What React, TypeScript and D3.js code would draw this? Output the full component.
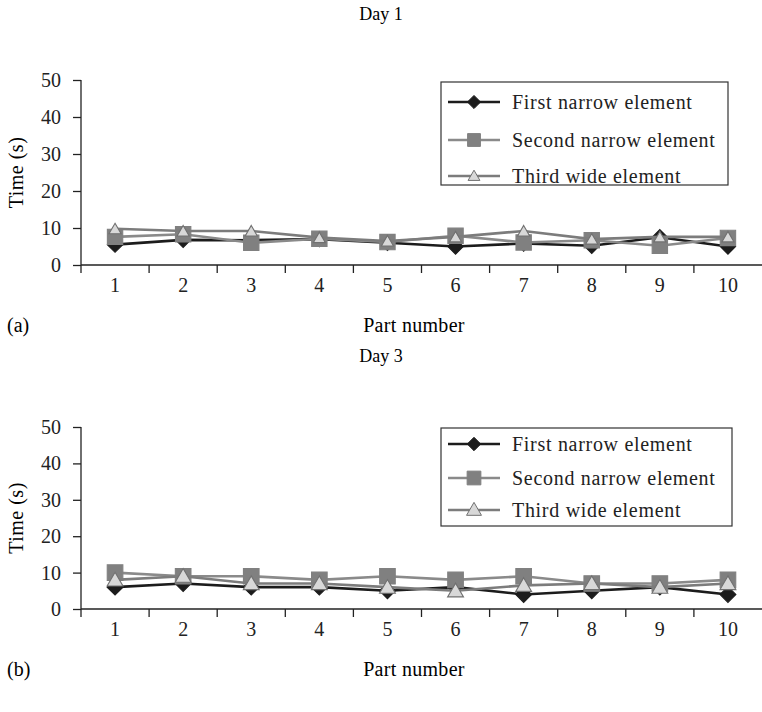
import React, { useEffect, useRef } from 'react'
import * as d3 from 'd3'

const parts = ['1', '2', '3', '4', '5', '6', '7', '8', '9', '10']
const yTicks = [0, 10, 20, 30, 40, 50]
const seriesNames = ['First narrow element', 'Second narrow element', 'Third wide element']

const day1First = [5.5, 6.8, 6.7, 7, 6, 5, 5.8, 5.2, 7.5, 5]
const day1Second = [7.6, 8.3, 6, 7.1, 6.2, 7.9, 6.1, 6.7, 5.2, 7.3]
const day1Third = [9.8, 9.2, 9.2, 7.4, 6.5, 7.6, 9.2, 7, 7.6, 7.6]

const day3First = [6, 7, 6, 6, 5, 6, 4, 5, 6, 4]
const day3Second = [10, 9, 9, 8, 9, 8, 9, 7, 7, 8]
const day3Third = [8, 9, 7, 7, 6, 5, 6.5, 7, 6, 7]

const FONT = '"Liberation Serif", "Times New Roman", serif'

const styles = [
  { line: '#1c1c1c', fill: '#1c1c1c', stroke: '#1c1c1c', shape: 'diamond' },
  { line: '#8a8a8a', fill: '#808080', stroke: '#808080', shape: 'square' },
  { line: '#7c7c7c', fill: '#d8d8d8', stroke: '#707070', shape: 'triangle' },
]

const symbolFor = (shape: string, size: number) => {
  const type = shape === 'diamond' ? d3.symbolDiamond2 : shape === 'square' ? d3.symbolSquare2 : d3.symbolTriangle2
  return d3.symbol().type(type).size(size)()
}

export default function App() {
  const ref = useRef<SVGSVGElement>(null)

  useEffect(() => {
    if (!ref.current) return
    const svg = d3.select(ref.current)
    svg.selectAll('*').remove()

    const panels = [
      {
        title: 'Day 1', label: '(a)', top: 80, bottom: 265, titleY: 20,
        data: [day1First, day1Second, day1Third],
        legend: { x: 441, y: 82, w: 287, h: 103, rows: [102, 140, 176], msize: [110, 210, 100] },
        markSize: [150, 300, 105],
      },
      {
        title: 'Day 3', label: '(b)', top: 427, bottom: 609, titleY: 362,
        data: [day3First, day3Second, day3Third],
        legend: { x: 441, y: 428, w: 291, h: 98, rows: [444, 478, 510], msize: [115, 240, 160] },
        markSize: [160, 310, 180],
      },
    ]

    const x = d3.scaleBand().domain(parts).range([81, 762])

    panels.forEach((p) => {
      const y = d3.scaleLinear().domain([0, 50]).range([p.bottom, p.top])
      const g = svg.append('g')

      g.append('text')
        .attr('x', 381).attr('y', p.titleY)
        .attr('text-anchor', 'middle')
        .attr('font-family', FONT).attr('font-size', 18)
        .text(p.title)

      // axes
      const yAxis = g.append('g')
        .attr('transform', 'translate(81,0)')
        .call(d3.axisLeft(y).tickValues(yTicks).tickSize(8).tickPadding(12))
      const xAxis = g.append('g')
        .attr('transform', `translate(0,${p.bottom})`)
        .call(d3.axisBottom(x).tickSize(0).tickPadding(13))
      ;[yAxis, xAxis].forEach((a) => {
        a.select('.domain').attr('stroke', '#222').attr('stroke-width', 1.3)
        a.selectAll('line').attr('stroke', '#222').attr('stroke-width', 1.3)
        a.selectAll('text').attr('font-family', FONT).attr('font-size', 20).attr('fill', '#222')
      })
      yAxis.select('.domain').attr('d', `M0,${p.top}V${p.bottom}`)
      xAxis.select('.domain').attr('d', `M81,0H762`)

      // x ticks sit at the band boundaries
      const bounds = parts.map((d) => x(d) as number)
      xAxis.selectAll('.bound')
        .data(bounds)
        .enter()
        .append('line')
        .attr('x1', (d) => d).attr('x2', (d) => d)
        .attr('y1', 0).attr('y2', 8)
        .attr('stroke', '#222').attr('stroke-width', 1.3)

      g.append('text')
        .attr('transform', `translate(23,${(p.top + p.bottom) / 2}) rotate(-90)`)
        .attr('text-anchor', 'middle')
        .attr('font-family', FONT).attr('font-size', 20)
        .attr('letter-spacing', 0.5)
        .text('Time (s)')

      g.append('text')
        .attr('x', 414).attr('y', p.bottom + 67)
        .attr('text-anchor', 'middle')
        .attr('font-family', FONT).attr('font-size', 20)
        .attr('letter-spacing', 0.3)
        .text('Part number')

      g.append('text')
        .attr('x', 7).attr('y', p.bottom + 67)
        .attr('font-family', FONT).attr('font-size', 20)
        .text(p.label)

      // series
      const cx = (i: number) => (x(parts[i]) as number) + x.bandwidth() / 2
      p.data.forEach((vals, si) => {
        const st = styles[si]
        const line = d3.line<number>().x((_, i) => cx(i)).y((d) => y(d))
        g.append('path')
          .attr('d', line(vals))
          .attr('fill', 'none')
          .attr('stroke', st.line)
          .attr('stroke-width', 2.6)
        g.selectAll(`.m${si}`)
          .data(vals)
          .enter()
          .append('path')
          .attr('transform', (d, i) => `translate(${cx(i)},${y(d) + (st.shape === 'triangle' ? 1.5 : 0)})`)
          .attr('d', symbolFor(st.shape, p.markSize[si]))
          .attr('fill', st.fill)
          .attr('stroke', st.stroke)
          .attr('stroke-width', 1.1)
      })

      // legend
      const L = p.legend
      const lg = g.append('g')
      lg.append('rect')
        .attr('x', L.x).attr('y', L.y).attr('width', L.w).attr('height', L.h)
        .attr('fill', '#fff').attr('stroke', '#333').attr('stroke-width', 1.2)
      seriesNames.forEach((name, si) => {
        const st = styles[si]
        const ry = L.rows[si]
        lg.append('line')
          .attr('x1', 448).attr('x2', 500).attr('y1', ry).attr('y2', ry)
          .attr('stroke', st.line).attr('stroke-width', 2.6)
        lg.append('path')
          .attr('transform', `translate(474,${ry + (st.shape === 'triangle' ? 1 : 0)})`)
          .attr('d', symbolFor(st.shape, L.msize[si]))
          .attr('fill', st.fill)
          .attr('stroke', st.stroke)
          .attr('stroke-width', 1)
        lg.append('text')
          .attr('x', 512).attr('y', ry)
          .attr('dy', '0.35em')
          .attr('font-family', FONT).attr('font-size', 20)
          .attr('letter-spacing', 0.7)
          .attr('fill', '#222')
          .text(name)
      })
    })
  }, [])

  return (
    <svg
      ref={ref}
      width={762}
      height={712}
      style={{ position: 'absolute', left: 0, top: 0, background: '#fff' }}
    />
  )
}
